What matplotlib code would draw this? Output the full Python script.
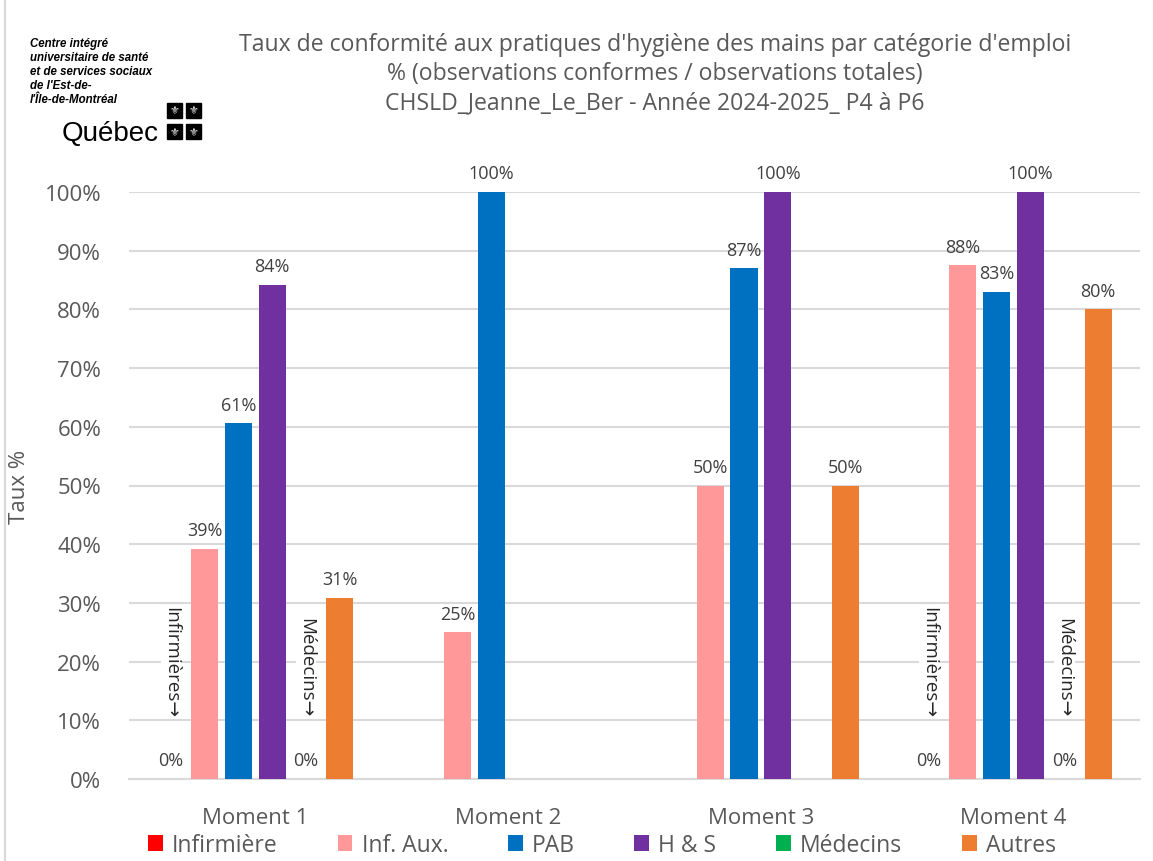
import matplotlib
matplotlib.use("Agg")
import matplotlib.pyplot as plt
from matplotlib.patches import Rectangle
from matplotlib.ticker import PercentFormatter
import numpy as np

plt.rcParams['font.family'] = ['Open Sans', 'DejaVu Sans']

# Data (in %)
categories = ["Moment 1", "Moment 2", "Moment 3", "Moment 4"]
series_names = ["Infirmière", "Inf. Aux.", "PAB", "H & S", "Médecins", "Autres"]
infirmiere = [0, np.nan, np.nan, 0]
inf_aux = [39.2, 25, 50, 87.5]
pab = [60.6, 100, 87, 83]
hs = [84.2, np.nan, 100, 100]
medecins = [0, np.nan, np.nan, 0]
autres = [30.8, np.nan, 50, 80]
colors = ["#FF0000", "#FF9999", "#0070C0", "#7030A0", "#00B050", "#ED7D31"]

title_lines = ["Taux de conformité aux pratiques d'hygiène des mains par catégorie d'emploi",
               "% (observations conformes / observations totales)",
               "CHSLD_Jeanne_Le_Ber - Année 2024-2025_ P4 à P6"]

grey = "#595959"
grid = "#D9D9D9"

fig = plt.figure(figsize=(11.53, 8.62), dpi=100)
ax = fig.add_axes([129/1153, 82/862, 1011/1153, 587/862])

x = np.arange(len(categories))
step = 0.1337
width = 0.107
all_series = [infirmiere, inf_aux, pab, hs, medecins, autres]
for i, (vals, name, col) in enumerate(zip(all_series, series_names, colors)):
    pos = x + (i - 2.5) * step
    ax.bar(pos, vals, width, color=col, label=name, zorder=3)
    for p, v in zip(pos, vals):
        if np.isnan(v):
            continue
        ax.annotate("%.0f%%" % v, (p, v), xytext=(0, 7), textcoords="offset points",
                    ha="center", va="bottom", fontsize=13, color="#404040")

# rotated notes for Infirmières / Médecins in Moment 1 and 4
for m in [0, 3]:
    for i, lab in [(0, "Infirmières→"), (4, "Médecins→")]:
        ax.text(x[m] + (i - 2.5) * step, 10.6, lab, rotation=270, ha="center", va="bottom",
                fontsize=13.5, color="#262626", zorder=4,
                bbox=dict(facecolor="white", edgecolor="none", pad=1))

ax.set_xlim(-0.5, 3.5)
ax.set_ylim(0, 100)
ax.set_yticks(np.arange(0, 101, 10))
ax.yaxis.set_major_formatter(PercentFormatter(xmax=100, decimals=0))
ax.set_xticks(x)
ax.set_xticklabels(categories)
ax.tick_params(axis="both", length=0, labelsize=16, colors=grey)
ax.tick_params(axis="y", pad=20)
ax.tick_params(axis="x", pad=20)
ax.grid(axis="y", color=grid, linewidth=1.5, zorder=0)
for s in ["top", "right", "left"]:
    ax.spines[s].set_visible(False)
ax.spines["bottom"].set_color(grid)
ax.spines["bottom"].set_linewidth(1.5)
ax.set_ylabel("Taux %", fontsize=16, color=grey)
ax.yaxis.set_label_coords((30 - 129) / 1011, (780 - 487) / 587)

# title
for k, line in enumerate(title_lines):
    fig.text(655/1153, 1 - (45 + 29*k)/862, line, ha="center", va="center",
             fontsize=16.6, color=grey)

# legend
ax.legend(loc="center", bbox_to_anchor=(602/1153, 16/862), bbox_transform=fig.transFigure,
          ncol=6, frameon=False, fontsize=16.5, handlelength=0.65, handleheight=0.65,
          handletextpad=0.4, columnspacing=2.6, labelcolor=grey)

# logo
logo = ["Centre intégré", "universitaire de santé", "et de services sociaux",
        "de l'Est-de-", "l'Île-de-Montréal"]
for k, line in enumerate(logo):
    fig.text(30/1153, 1 - (44 + 14*k)/862, line, ha="left", va="center",
             fontsize=8.3, fontweight="bold", fontstyle="italic",
             family=["Liberation Sans", "DejaVu Sans"], color="black")
fig.text(62/1153, 1 - 141/862, "Québec", ha="left", va="baseline", fontsize=20,
         family=["Liberation Sans", "DejaVu Sans"], color="black")
for fx in [167, 186]:
    for fy in [104, 125]:
        fig.patches.append(Rectangle((fx/1153, 1 - (fy + 15)/862), 15/1153, 15/862,
                                     transform=fig.transFigure, color="black"))
        fig.text((fx + 7.5)/1153, 1 - (fy + 7.5)/862, "⚜", ha="center", va="center",
                 fontsize=8, color="white", family="DejaVu Sans")

# chart border
fig.patches.append(Rectangle((5/1153, -0.01), 1.02, 1.02, transform=fig.transFigure,
                             fill=False, edgecolor=grid, linewidth=1.5))

fig.savefig("out.png", dpi=100)
